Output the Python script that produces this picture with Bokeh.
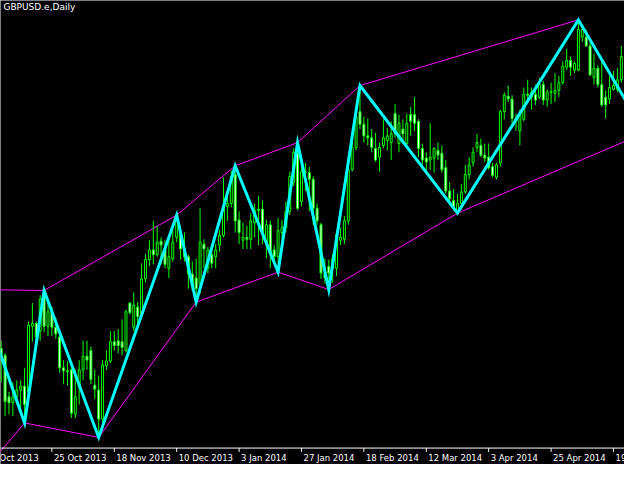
from bokeh.plotting import figure
from bokeh.models import Range1d, Span
from bokeh.core.properties import value
from bokeh.embed import file_html
from bokeh.resources import INLINE

# GBPUSD daily candles, one per bar
open_ = [1.61500, 1.61325, 1.60250, 1.60100, 1.60250, 1.60425, 1.60525, 1.60375, 1.62075, 1.62150,
         1.61950, 1.62900, 1.62075, 1.62450, 1.62050, 1.61800, 1.61000, 1.60925, 1.60950, 1.59800,
         1.60500, 1.60950, 1.61300, 1.61450, 1.60550, 1.60425, 1.59675, 1.61050, 1.61175, 1.61675,
         1.61700, 1.61675, 1.61450, 1.62675, 1.62050, 1.62575, 1.62375, 1.63300, 1.63800, 1.64050,
         1.63925, 1.64275, 1.64075, 1.63575, 1.63825, 1.64375, 1.64500, 1.64075, 1.63875, 1.63425,
         1.63325, 1.63175, 1.64200, 1.63575, 1.63925, 1.63875, 1.64175, 1.64425, 1.65175, 1.65250,
         1.66000, 1.64825, 1.64300, 1.64375, 1.64325, 1.64750, 1.65100, 1.65100, 1.64250, 1.64700,
         1.64050, 1.63875, 1.64500, 1.64625, 1.65050, 1.65800, 1.66550, 1.65300, 1.66050, 1.66050,
         1.65875, 1.65125, 1.64700, 1.63450, 1.63625, 1.63575, 1.63575, 1.64300, 1.64325, 1.64800,
         1.66125, 1.66700, 1.67625, 1.67300, 1.67000, 1.66950, 1.66675, 1.66450, 1.66750, 1.66875,
         1.66825, 1.67575, 1.66800, 1.67175, 1.66800, 1.67550, 1.67550, 1.67375, 1.66675, 1.66425,
         1.66375, 1.66425, 1.66625, 1.66550, 1.66175, 1.65575, 1.65325, 1.65075, 1.65250, 1.65550,
         1.66000, 1.66300, 1.66700, 1.66750, 1.66500, 1.66450, 1.66200, 1.65925, 1.66300, 1.67625,
         1.68025, 1.67950, 1.67375, 1.67125, 1.67425, 1.68075, 1.68000, 1.68075, 1.68000, 1.68325,
         1.67925, 1.68125, 1.68100, 1.68175, 1.68375, 1.68775, 1.68950, 1.68700, 1.68700, 1.69550,
         1.69550, 1.69325, 1.68500, 1.68750, 1.68325, 1.68000, 1.67950, 1.68200, 1.68200, 1.68450]

high = [1.61700, 1.61375, 1.60375, 1.60625, 1.60675, 1.60675, 1.61000, 1.62200, 1.62675, 1.62200,
        1.62875, 1.63000, 1.62675, 1.62575, 1.62300, 1.61875, 1.61200, 1.61175, 1.61050, 1.60950,
        1.61200, 1.61700, 1.61700, 1.61550, 1.60950, 1.60800, 1.61200, 1.61450, 1.61950, 1.61950,
        1.62000, 1.62250, 1.62500, 1.62700, 1.62950, 1.62700, 1.63700, 1.63950, 1.64300, 1.64800,
        1.64675, 1.64375, 1.64300, 1.64300, 1.64700, 1.64950, 1.64675, 1.64500, 1.63925, 1.63750,
        1.63825, 1.65125, 1.64325, 1.64125, 1.64100, 1.64200, 1.64575, 1.65925, 1.65500, 1.66100,
        1.66225, 1.65050, 1.64750, 1.64675, 1.65000, 1.65250, 1.65450, 1.65325, 1.64825, 1.64800,
        1.64175, 1.64875, 1.64825, 1.65300, 1.66075, 1.66675, 1.66825, 1.66425, 1.66300, 1.66200,
        1.65950, 1.65250, 1.64750, 1.63825, 1.63800, 1.63950, 1.64550, 1.64625, 1.64925, 1.66200,
        1.66950, 1.67550, 1.68300, 1.67500, 1.67450, 1.67175, 1.67075, 1.66825, 1.67425, 1.67200,
        1.67375, 1.67825, 1.67550, 1.67425, 1.67575, 1.67750, 1.68000, 1.67425, 1.66800, 1.66575,
        1.67325, 1.66700, 1.66825, 1.66750, 1.66375, 1.65800, 1.65625, 1.65500, 1.65750, 1.66250,
        1.66450, 1.66700, 1.67050, 1.66925, 1.66800, 1.66800, 1.66300, 1.66300, 1.67675, 1.68125,
        1.68300, 1.68050, 1.67575, 1.67675, 1.68250, 1.68450, 1.68250, 1.68325, 1.68500, 1.68425,
        1.68200, 1.68375, 1.68625, 1.68550, 1.68925, 1.69250, 1.69050, 1.68925, 1.70000, 1.69800,
        1.69750, 1.69425, 1.69125, 1.68825, 1.68925, 1.68175, 1.68550, 1.68675, 1.68750, 1.69325]

low = [1.60625, 1.59750, 1.59800, 1.59750, 1.60050, 1.59825, 1.59575, 1.60250, 1.61675, 1.61625,
       1.61700, 1.61925, 1.61825, 1.61825, 1.61750, 1.60875, 1.60575, 1.60550, 1.59700, 1.59700,
       1.60050, 1.60675, 1.60950, 1.60575, 1.60200, 1.59200, 1.59375, 1.60950, 1.61125, 1.61450,
       1.61375, 1.61325, 1.61400, 1.62375, 1.61950, 1.62050, 1.62300, 1.63200, 1.63625, 1.63675,
       1.63875, 1.63675, 1.63575, 1.63325, 1.63750, 1.64250, 1.63800, 1.63750, 1.63050, 1.63000,
       1.62700, 1.62925, 1.63575, 1.63450, 1.63575, 1.63575, 1.64000, 1.64375, 1.64800, 1.65150,
       1.64500, 1.64200, 1.64075, 1.64075, 1.64075, 1.64375, 1.64175, 1.64200, 1.63825, 1.63575,
       1.63750, 1.63475, 1.64325, 1.64500, 1.64950, 1.65700, 1.65075, 1.65175, 1.65575, 1.65050,
       1.64700, 1.64700, 1.63300, 1.63175, 1.63025, 1.63200, 1.63375, 1.64175, 1.64200, 1.64700,
       1.66075, 1.66625, 1.67175, 1.66825, 1.66750, 1.66575, 1.66325, 1.66075, 1.66675, 1.66625,
       1.66375, 1.66950, 1.66575, 1.66800, 1.66700, 1.67000, 1.67125, 1.66450, 1.66125, 1.66050,
       1.66125, 1.66050, 1.66375, 1.66050, 1.65500, 1.65200, 1.65075, 1.65000, 1.65200, 1.65500,
       1.65875, 1.66200, 1.66575, 1.66450, 1.66325, 1.66125, 1.65925, 1.65875, 1.66200, 1.67425,
       1.67875, 1.67325, 1.67125, 1.66750, 1.67375, 1.67925, 1.67675, 1.67800, 1.67950, 1.67800,
       1.67750, 1.67825, 1.67875, 1.68000, 1.68325, 1.68700, 1.68550, 1.68625, 1.68675, 1.69425,
       1.69300, 1.68550, 1.68325, 1.68250, 1.67750, 1.67450, 1.67825, 1.68175, 1.68125, 1.68375]

close = [1.61325, 1.60125, 1.60100, 1.60250, 1.60425, 1.60525, 1.60050, 1.62100, 1.62150, 1.61800,
         1.62775, 1.62075, 1.62450, 1.62050, 1.61875, 1.61000, 1.60925, 1.60900, 1.59825, 1.60250,
         1.60950, 1.61300, 1.61200, 1.60700, 1.60450, 1.59675, 1.61075, 1.61175, 1.61675, 1.61575,
         1.61575, 1.61525, 1.62450, 1.62425, 1.62625, 1.62325, 1.63300, 1.63800, 1.64050, 1.63925,
         1.64250, 1.64175, 1.63675, 1.63875, 1.64250, 1.64800, 1.64075, 1.63875, 1.63425, 1.63125,
         1.63050, 1.64250, 1.64075, 1.64050, 1.63700, 1.64050, 1.64425, 1.65175, 1.65250, 1.65950,
         1.64800, 1.64500, 1.64375, 1.64325, 1.64800, 1.65075, 1.65075, 1.64500, 1.64700, 1.63950,
         1.63875, 1.64550, 1.64625, 1.65050, 1.65950, 1.66575, 1.65125, 1.66075, 1.66075, 1.65875,
         1.65125, 1.64800, 1.63450, 1.63325, 1.63450, 1.63825, 1.64450, 1.64375, 1.64800, 1.66125,
         1.66700, 1.67500, 1.67300, 1.67000, 1.66950, 1.66700, 1.66375, 1.66700, 1.66950, 1.67000,
         1.67050, 1.67050, 1.67325, 1.67050, 1.67325, 1.67375, 1.67325, 1.66675, 1.66375, 1.66325,
         1.66450, 1.66675, 1.66500, 1.66125, 1.65575, 1.65375, 1.65125, 1.65250, 1.65550, 1.66000,
         1.66250, 1.66575, 1.66825, 1.66500, 1.66425, 1.66175, 1.65975, 1.66250, 1.67625, 1.68050,
         1.67950, 1.67450, 1.67450, 1.67550, 1.68075, 1.68050, 1.68125, 1.67925, 1.68325, 1.67925,
         1.68125, 1.68150, 1.68175, 1.68375, 1.68800, 1.68950, 1.68775, 1.68875, 1.69750, 1.69750,
         1.69325, 1.68575, 1.68750, 1.68325, 1.67800, 1.67800, 1.68250, 1.68300, 1.68450, 1.69050]

# ZigZag turning points (bar number, price), alternating low / high
zz_bar = [-20, -6, 6, 11, 25, 45, 50, 60, 71, 76, 84, 92, 117, 148, 165]
zz_price = [1.56475, 1.63025, 1.59575, 1.63000, 1.59200, 1.64950, 1.62700, 1.66225,
            1.63475, 1.66825, 1.63025, 1.68300, 1.65000, 1.70000, 1.67075]

# time axis
tick_bar = [-3, 13, 29, 45, 61, 77, 93, 109, 125, 141, 157]
tick_label = ["3 Oct 2013", "25 Oct 2013", "18 Nov 2013", "10 Dec 2013", "3 Jan 2014",
              "27 Jan 2014", "18 Feb 2014", "12 Mar 2014", "3 Apr 2014", "25 Apr 2014",
              "19 May 2014"]

title = "GBPUSD.e,Daily"

W, H = 624, 464

p = figure(width=W, height=H, output_backend="svg", toolbar_location=None,
           x_axis_type=None, y_axis_type=None,
           x_range=Range1d(-0.175, 159.825), y_range=Range1d(1.5850, 1.7050),
           min_border=0, background_fill_color="black", border_fill_color="black",
           outline_line_color=None)
p.grid.visible = False
# pixel space of the original 640x480 screen, for the axis strip and caption
p.extra_x_ranges = {"px": Range1d(0, 640)}
p.extra_y_ranges = {"px": Range1d(480, 0)}

bars = list(range(len(open_)))
body_top = [max(o, c) for o, c in zip(open_, close)]
body_bot = [min(o, c) for o, c in zip(open_, close)]
body_fill = ["white" if c < o else "black" for o, c in zip(open_, close)]

# channel lines through the highs and through the lows
p.line(zz_bar[0::2], zz_price[0::2], line_color="#FF00FF", line_width=1)
p.line(zz_bar[1::2], zz_price[1::2], line_color="#FF00FF", line_width=1)

# candles
p.segment(x0=bars, y0=high, x1=bars, y1=low, line_color="#00FF00", line_width=1)
p.vbar(x=bars, width=0.5, top=body_top, bottom=body_bot,
       fill_color=body_fill, line_color="#00FF00", line_width=1)

# zigzag
p.line(zz_bar, zz_price, line_color="#00FFFF", line_width=3, line_join="miter")

# bottom time scale
p.add_layout(Span(location=463, dimension="width", y_range_name="px",
                  line_color="white", line_width=1))
p.segment(x0=tick_bar, y0=[463] * len(tick_bar), x1=tick_bar, y1=[467] * len(tick_bar),
          y_range_name="px", line_color="white", line_width=1)
p.text(x=tick_bar, y=[473] * len(tick_bar), text=tick_label, y_range_name="px",
       x_offset=2, text_align="left", text_baseline="middle",
       text_color="white", text_font=value("DejaVu Sans"), text_font_size="8.5px")

# caption top-left
p.text(x=[3], y=[2], text=[title], x_range_name="px", y_range_name="px",
       text_align="left", text_baseline="top",
       text_color="white", text_font=value("DejaVu Sans"), text_font_size="9px")

open("out.html", "w").write(file_html(p, INLINE))
